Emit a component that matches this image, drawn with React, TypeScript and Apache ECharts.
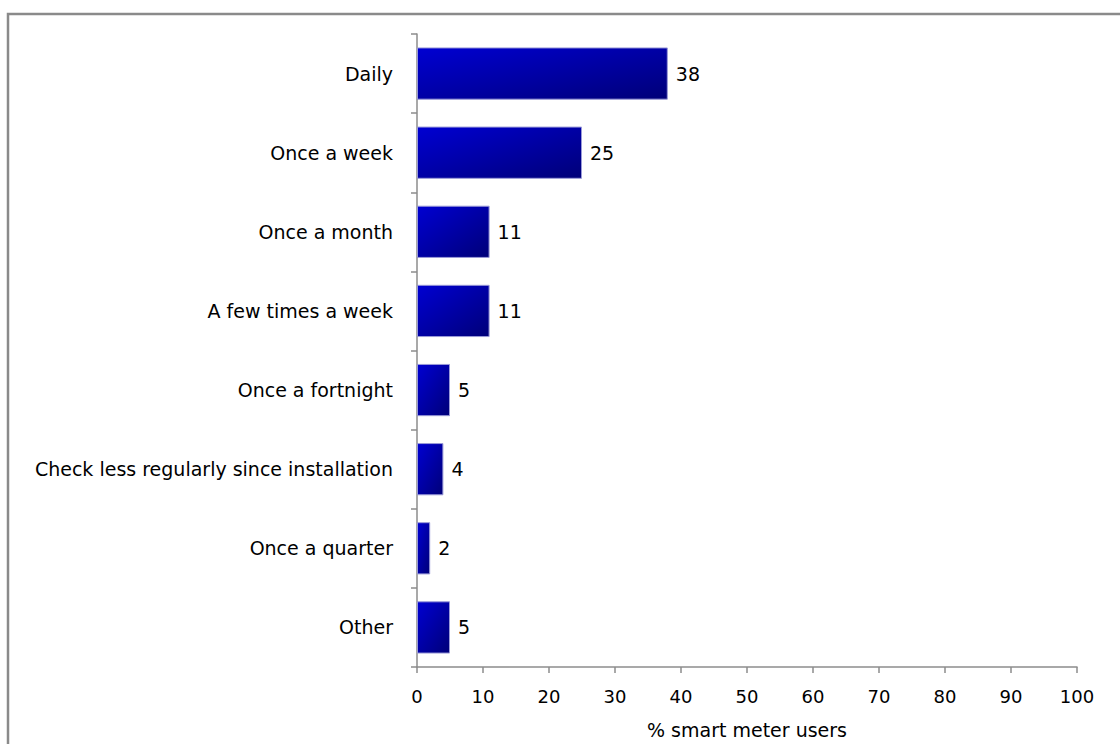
import React, { useEffect, useRef } from "react";
import * as echarts from "echarts";

const categories = [
  "Daily",
  "Once a week",
  "Once a month",
  "A few times a week",
  "Once a fortnight",
  "Check less regularly since installation",
  "Once a quarter",
  "Other",
];
const values = [38, 25, 11, 11, 5, 4, 2, 5];
const xTicks = { min: 0, max: 100, interval: 10 };
const xAxisName = "% smart meter users";

const FONT = "DejaVu Sans";

export default function App() {
  const ref = useRef<HTMLDivElement>(null);
  useEffect(() => {
    if (!ref.current) return;
    const chart = echarts.init(ref.current, null, { renderer: "svg" });
    chart.setOption({
      animation: false,
      backgroundColor: "#ffffff",
      graphic: [
        {
          type: "rect",
          shape: { x: 8, y: 14, width: 1140, height: 760 },
          style: { fill: "none", stroke: "#8a8a8a", lineWidth: 2.5 },
          silent: true,
        },
      ],
      grid: { left: 417, right: 43, top: 34, bottom: 77 },
      xAxis: {
        type: "value",
        min: xTicks.min,
        max: xTicks.max,
        interval: xTicks.interval,
        name: xAxisName,
        nameLocation: "middle",
        nameGap: 53,
        nameTextStyle: { fontFamily: FONT, fontSize: 19, color: "#000" },
        axisLine: { show: true, lineStyle: { color: "#8c8c8c", width: 1.5 } },
        axisTick: { show: true, length: 6, lineStyle: { color: "#8c8c8c", width: 1.5 } },
        axisLabel: { fontFamily: FONT, fontSize: 18, color: "#000", margin: 20 },
        splitLine: { show: false },
      },
      yAxis: {
        type: "category",
        data: categories,
        inverse: true,
        axisLine: { show: true, lineStyle: { color: "#8c8c8c", width: 1.5 } },
        axisTick: { show: true, length: 6, lineStyle: { color: "#8c8c8c", width: 1.5 } },
        axisLabel: { fontFamily: FONT, fontSize: 19, color: "#000", margin: 24 },
      },
      series: [
        {
          type: "bar",
          data: values,
          barWidth: "66%",
          itemStyle: {
            color: new echarts.graphic.LinearGradient(0, 0, 1, 1, [
              { offset: 0, color: "#0000d2" },
              { offset: 1, color: "#000078" },
            ]),
            borderColor: "#9a9ad8",
            borderWidth: 1,
          },
          label: {
            show: true,
            position: "right",
            distance: 8,
            fontFamily: FONT,
            fontSize: 19,
            color: "#000",
          },
        },
      ],
    });
    return () => chart.dispose();
  }, []);
  return (
    <div
      ref={ref}
      style={{ position: "fixed", left: 0, top: 0, width: 1120, height: 744 }}
    />
  );
}
